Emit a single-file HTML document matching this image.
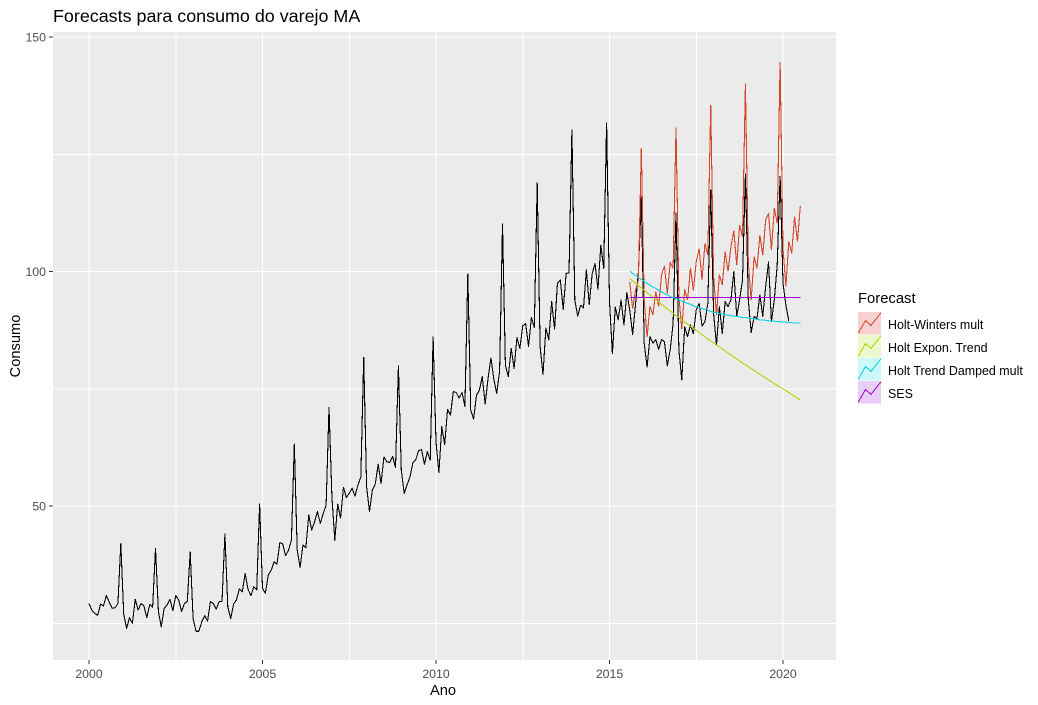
<!DOCTYPE html>
<html lang="pt">
<head>
<meta charset="utf-8">
<title>Forecasts para consumo do varejo MA</title>
<style>
html,body{margin:0;padding:0;background:#fff;}
svg{display:block;font-family:"Liberation Sans",Arial,sans-serif;}
</style>
</head>
<body>
<svg id="chart" width="1038" height="705" viewBox="0 0 1038 705" xmlns="http://www.w3.org/2000/svg"></svg>
<script>
const xTickLabels = [2000, 2005, 2010, 2015, 2020];
const xMinorTicks = [2002.5, 2007.5, 2012.5, 2017.5];
const yTickLabels = [50, 100, 150];
const yMinorTicks = [25, 75, 125];
const startYear = 2000;
const forecastStartIndex = 187;
const consumo = [
29.2,27.8,27.1,26.7,29.1,28.7,30.9,29.5,28.2,28.3,29.2,42.0,
27.0,23.9,26.2,25.0,30.1,27.8,29.2,28.7,26.2,29.0,28.4,41.0,
27.5,24.2,28.2,28.9,30.1,27.7,30.9,30.0,27.5,29.2,29.7,40.2,
26.0,23.3,23.3,25.3,26.6,25.5,29.6,29.2,28.0,29.6,29.7,44.0,
28.5,26.0,29.1,30.0,32.3,31.7,35.6,32.2,30.9,32.8,32.1,50.4,
32.4,31.4,35.3,36.3,38.1,37.6,42.2,41.9,39.4,40.6,42.7,63.2,
40.6,36.9,41.7,41.1,48.1,44.9,46.6,48.8,46.3,48.4,50.2,71.0,
52.0,42.7,50.4,47.4,54.0,51.8,52.7,53.8,52.1,54.5,56.2,81.7,
54.1,48.8,53.4,54.7,58.9,54.8,60.5,59.4,59.3,60.6,58.2,79.9,
57.7,52.7,54.5,56.2,59.2,59.9,61.8,62.0,58.9,61.6,59.8,86.0,
63.7,57.1,66.9,63.1,70.6,69.4,74.4,74.2,73.0,74.2,71.2,99.5,
70.5,68.5,73.6,74.7,77.6,71.7,77.2,81.6,77.0,74.0,78.8,110.1,
80.0,77.6,83.6,79.3,85.9,83.6,88.4,88.9,84.0,90.2,88.1,118.9,
84.0,78.0,87.9,85.4,93.6,87.7,97.5,98.2,91.9,99.6,99.7,130.2,
93.9,90.5,92.8,92.2,100.3,93.0,99.5,101.7,96.2,105.6,100.7,131.7,
93.6,82.5,92.4,89.7,93.9,88.6,95.5,91.8,86.6,93.0,100.0,115.9,
84.7,79.6,86.1,84.7,85.5,83.4,85.5,85.0,79.9,83.4,88.9,112.5,
83.2,76.9,88.2,86.1,88.6,86.8,91.8,93.2,88.4,89.3,93.2,117.4,
91.0,84.3,92.5,86.8,93.6,92.5,94.0,100.0,90.4,94.0,98.2,120.8,
94.0,87.0,90.4,90.0,95.0,90.4,96.8,102.0,89.3,94.0,101.4,120.3,
97.5,92.8,89.5
];
const holtWinters = [
97.8,92.1,96.0,98.2,126.3,
94.0,86.0,92.6,90.7,95.7,92.6,99.3,101.2,95.3,101.9,100.7,130.7,
94.6,87.7,96.2,93.9,100.7,96.0,102.1,104.9,98.2,106.0,103.5,135.5,
98.9,90.7,99.3,97.1,104.2,100.0,105.3,108.7,101.4,109.9,107.4,140.1,
102.0,93.9,103.2,100.7,107.8,103.5,111.0,112.4,104.6,113.5,110.3,144.7,
104.9,96.8,106.4,103.9,111.7,106.4,114.0
];
const holtExpon = [
98.5,98.0,97.5,97.0,96.5,96.0,95.5,95.0,94.5,94.0,
93.5,93.0,92.5,92.0,91.6,91.1,90.6,90.2,89.7,89.2,
88.8,88.3,87.9,87.4,87.0,86.5,86.1,85.6,85.2,84.8,
84.3,83.9,83.5,83.0,82.6,82.2,81.8,81.4,80.9,80.5,
80.1,79.7,79.3,78.9,78.5,78.1,77.7,77.3,76.9,76.5,
76.1,75.7,75.3,75.0,74.6,74.2,73.8,73.4,73.0,72.6
];
const holtDamped = [
100.1,99.6,99.2,98.7,98.3,97.9,97.5,97.1,96.7,96.4,
96.0,95.7,95.3,95.0,94.7,94.4,94.2,93.9,93.7,93.4,
93.2,93.0,92.7,92.5,92.3,92.1,91.9,91.7,91.5,91.3,
91.2,91.0,90.9,90.8,90.7,90.6,90.5,90.4,90.3,90.2,
90.2,90.1,90.0,89.9,89.8,89.7,89.7,89.6,89.5,89.4,
89.4,89.3,89.3,89.2,89.2,89.1,89.1,89.0,89.0,89.0
];
const ses = [
94.5,94.5,94.5,94.5,94.5,94.5,94.5,94.5,94.5,94.5,
94.5,94.5,94.5,94.5,94.5,94.5,94.5,94.5,94.5,94.5,
94.5,94.5,94.5,94.5,94.5,94.5,94.5,94.5,94.5,94.5,
94.5,94.5,94.5,94.5,94.5,94.5,94.5,94.5,94.5,94.5,
94.5,94.5,94.5,94.5,94.5,94.5,94.5,94.5,94.5,94.5,
94.5,94.5,94.5,94.5,94.5,94.5,94.5,94.5,94.5,94.5
];
const legendLabels = ["Holt-Winters mult", "Holt Expon. Trend", "Holt Trend Damped mult", "SES"];

const NS = "http://www.w3.org/2000/svg";
const svg = document.getElementById("chart");
function xScale(t) { return 89 + (t - 2000) * 34.7; }
function yScale(v) { return 271.5 - (v - 100) * 4.69; }
function timeAt(i) { return startYear + i / 12; }
function make(tag, attrs, parent) {
  const el = document.createElementNS(NS, tag);
  for (const k in attrs) el.setAttribute(k, attrs[k]);
  (parent || svg).appendChild(el);
  return el;
}
function label(txt, x, y, size, color, anchor, nameStr) {
  const t = make("text", { x: x, y: y, "font-size": size, fill: color, "text-anchor": anchor });
  t.textContent = txt;
  
  
  return t;
}

const panel = make("rect", { x: 53, y: 32, width: 783, height: 628, fill: "#EBEBEB" });



yMinorTicks.forEach(function (v) {
  const g = make("line", { x1: 53, x2: 836, y1: yScale(v), y2: yScale(v), stroke: "#fff", "stroke-width": 1, "shape-rendering": "crispEdges" });
  
  
});
xMinorTicks.forEach(function (v) {
  const g = make("line", { x1: xScale(v), x2: xScale(v), y1: 32, y2: 660, stroke: "#fff", "stroke-width": 1, "shape-rendering": "crispEdges" });
  
  
});
yTickLabels.forEach(function (v) {
  const g = make("line", { x1: 53, x2: 836, y1: yScale(v), y2: yScale(v), stroke: "#fff", "stroke-width": 1, "shape-rendering": "crispEdges" });
  
  
  const t = make("line", { x1: 49, x2: 53, y1: yScale(v), y2: yScale(v), stroke: "#333", "stroke-width": 1, "shape-rendering": "crispEdges" });
  
  
  label(String(v), 46, yScale(v) + 4.5, 12.3, "#4D4D4D", "end", "y-tick-label");
});
xTickLabels.forEach(function (v) {
  const g = make("line", { x1: xScale(v), x2: xScale(v), y1: 32, y2: 660, stroke: "#fff", "stroke-width": 1, "shape-rendering": "crispEdges" });
  
  
  const t = make("line", { x1: xScale(v), x2: xScale(v), y1: 660, y2: 664, stroke: "#333", "stroke-width": 1, "shape-rendering": "crispEdges" });
  
  
  label(String(v), xScale(v), 678, 12.3, "#4D4D4D", "middle", "x-tick-label");
});

function pointsFor(values, offset) {
  return values.map(function (v, i) {
    return xScale(timeAt(i + offset)).toFixed(2) + "," + yScale(v).toFixed(2);
  }).join(" ");
}
const blackLine = make("polyline", { points: pointsFor(consumo, 0), fill: "none", stroke: "#000", "stroke-width": 1.07, "stroke-linejoin": "round", "shape-rendering": "crispEdges" });



const redLine = make("polyline", { points: pointsFor(holtWinters, forecastStartIndex), fill: "none", stroke: "#D2452A", "stroke-width": 1.07, "shape-rendering": "crispEdges" });



const greenLine = make("polyline", { points: pointsFor(holtExpon, forecastStartIndex), fill: "none", stroke: "#B4D000", "stroke-width": 1.07, "shape-rendering": "crispEdges" });



const purpleLine = make("polyline", { points: pointsFor(ses, forecastStartIndex), fill: "none", stroke: "#A000D0", "stroke-width": 1.07, "shape-rendering": "crispEdges" });



const cyanLine = make("polyline", { points: pointsFor(holtDamped, forecastStartIndex), fill: "none", stroke: "#00D2E0", "stroke-width": 1.07, "shape-rendering": "crispEdges" });



label("Forecasts para consumo do varejo MA", 53, 22, 17.9, "#000", "start", "chart-title");
label("Ano", 443, 695, 14.67, "#000", "middle", "x-axis-title");
const yTitle = label("Consumo", 0, 0, 14.67, "#000", "middle", "y-axis-title");
yTitle.setAttribute("transform", "translate(20,346) rotate(-90)");

label("Forecast", 858, 303, 14.8, "#000", "start", "legend-title");
const legendFill = ["#F8D2D0", "#EDF8CC", "#CCF8FA", "#E8CFF8"];
const legendLine = ["#D2452A", "#B4D000", "#00D2E0", "#A000D0"];
legendLabels.forEach(function (name, k) {
  const top = 312 + k * 23;
  const key = make("rect", { x: 858, y: top, width: 23, height: 22.5, fill: legendFill[k] });
  
  
  const glyph = make("polyline", {
    points: [[0.3, 21], [7.5, 8.5], [13, 13.5], [23, 0.7]].map(function (p) { return (858 + p[0]) + "," + (top + p[1]); }).join(" "),
    fill: "none", stroke: legendLine[k], "stroke-width": 1, "shape-rendering": "crispEdges"
  });
  
  
  label(name, 888, top + 17, 12.45, "#000", "start", "legend-label");
});
</script>
</body>
</html>
